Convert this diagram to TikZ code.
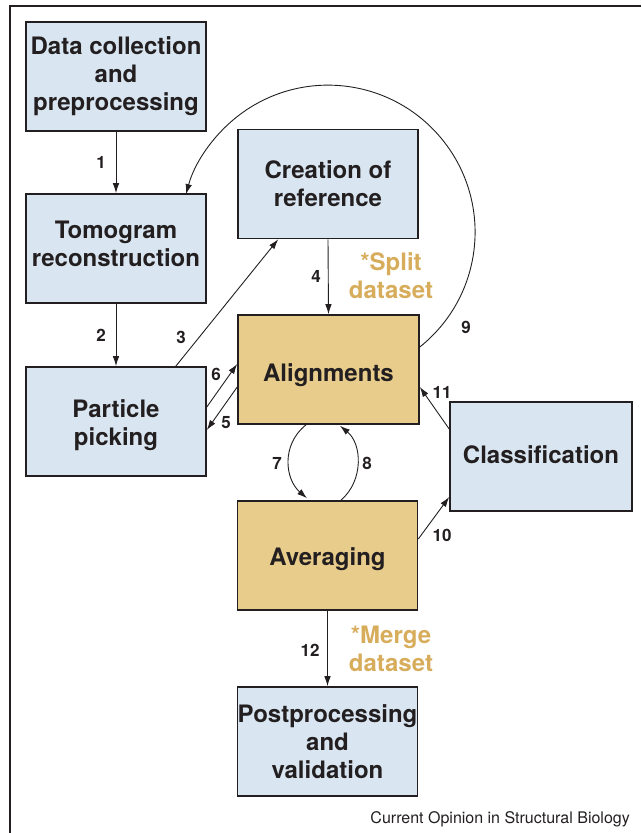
\documentclass[tikz,border=0pt]{standalone}
\usepackage{fontspec}
\setmainfont{TeX Gyre Heros}
\usetikzlibrary{arrows.meta,calc}
\definecolor{boxblue}{RGB}{217,230,241}
\definecolor{boxtan}{RGB}{232,204,139}
\definecolor{goldtxt}{RGB}{215,173,92}
\definecolor{edgecol}{RGB}{35,31,32}
\newcommand{\shiftlines}[2]{\raisebox{#1}[\height][\depth]{\begin{tabular}{@{}c@{}}#2\end{tabular}}}
\newcommand{\shiftone}[2]{\raisebox{#1}[\height][\depth]{#2}}
\begin{document}
\begin{tikzpicture}[x=1pt,y=-1pt,
  box/.style={draw=edgecol, line width=1.6pt, minimum width=180pt, minimum height=109pt,
    inner sep=0pt, align=center, text=edgecol, font=\fontsize{24}{28}\selectfont\bfseries},
  bluebox/.style={box, fill=boxblue},
  tanbox/.style={box, fill=boxtan},
  conn/.style={draw=edgecol, line width=0.9pt, -{Latex[length=10pt,width=6.5pt]}},
  num/.style={text=edgecol, font=\fontsize{17}{17}\selectfont\bfseries, inner sep=0pt},
  note/.style={text=goldtxt, align=center, font=\fontsize{24}{28}\selectfont\bfseries, inner sep=0pt}
]
\useasboundingbox (0,0) rectangle (641,833);
\draw[draw=edgecol, line width=1.5pt] (10,833) -- (10,6) -- (641,6);

\node[bluebox] (dc) at (116,76.5) {Data collection\\and\\preprocessing};
\node[bluebox] (tr) at (116,248.5) {\shiftlines{2pt}{Tomogram\\reconstruction}};
\node[bluebox] (pp) at (116,421.5) {\shiftlines{-4pt}{Particle\\picking}};
\node[bluebox] (cr) at (328,184) {Creation of\\reference};
\node[tanbox, minimum width=181pt] (al) at (328.5,369.5) {\shiftone{-6pt}{Alignments}};
\node[bluebox, minimum width=182pt] (cl) at (541,456.5) {\shiftone{2pt}{Classification}};
\node[tanbox] (av) at (327.5,555.5) {\shiftone{-4pt}{Averaging}};
\node[bluebox] (pv) at (327.5,741.5) {Postprocessing\\and\\validation};

\draw[conn] (dc.south) -- (tr.north);
\draw[conn] (tr.south) -- (pp.north);
\draw[conn] ($(pp.north east)+(-31,0)$) -- ($(cr.south west)+(41,0)$);
\draw[conn] (cr.south) -- (al.north);
\draw[conn] ($(pp.east)+(0,-14.5)$) -- ($(al.west)+(0,-5.5)$);
\draw[conn] ($(al.west)+(0,17.5)$) -- ($(pp.east)+(0,8.5)$);
\draw[conn] ($(al.south)+(-22.5,0)$) .. controls ($(al.south)+(-47.5,20)$) and ($(av.north)+(-42.5,-21)$) .. ($(av.north)+(-20.5,-2)$);
\draw[conn] ($(av.north)+(13.5,0)$) .. controls ($(av.north)+(36.5,-20)$) and ($(al.south)+(33.5,19)$) .. ($(al.south)+(11.5,1)$);
\draw[conn] ($(al.east)+(0,-22.5)$) arc[start angle=51.4, end angle=-165, radius=147];
\draw[conn] ($(cl.west)+(0,-27.5)$) -- ($(al.east)+(0,17.5)$);
\draw[conn] ($(av.east)+(0,-16.5)$) -- ($(cl.west)+(0,40.5)$);
\draw[conn] (av.south) -- (pv.north);

\node[num] (n1) at (101,162) {1};
\node[num] (n2) at (101,335) {2};
\node[num] (n3) at (181,337) {3};
\node[num] (n4) at (316,276) {4};
\node[num] (n5) at (226,423) {5};
\node[num] (n6) at (216,374) {6};
\node[num] (n7) at (277,463) {7};
\node[num] (n8) at (367,463) {8};
\node[num] (n9) at (466,327) {9};
\node[num] (n10) at (442,535) {10};
\node[num] (n11) at (442,392) {11};
\node[num] (n12) at (310,650) {12};

\node[note] (split) at (391,276) {*Split\\dataset};
\node[note] (merge) at (391,649) {*Merge\\dataset};

\node[anchor=base east, inner sep=0pt, text=edgecol, font=\fontsize{16}{16}\selectfont] (cap) at (630,823) {Current Opinion in Structural Biology};
\end{tikzpicture}
\end{document}
